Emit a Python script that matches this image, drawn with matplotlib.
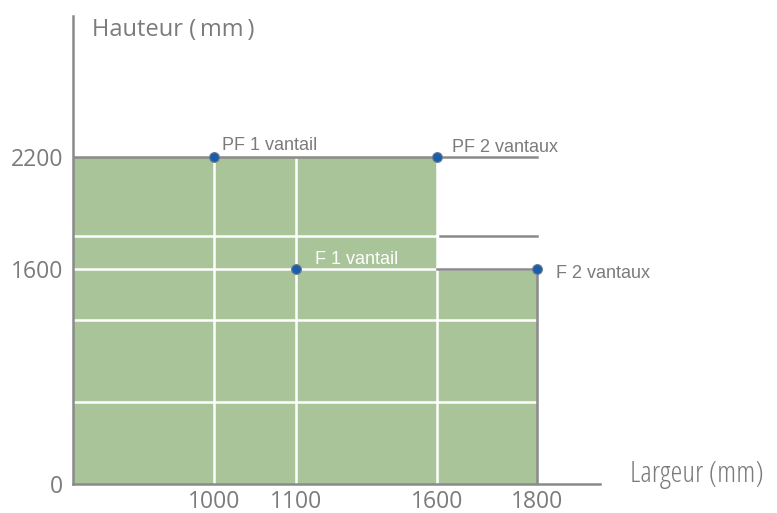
import numpy as np
import matplotlib
matplotlib.use('Agg')
import matplotlib.pyplot as plt

# les quatre configurations (largeur, hauteur)
noms = ['PF 1 vantail', 'PF 2 vantaux', 'F 1 vantail', 'F 2 vantaux']
largeurs = [1000, 1600, 1100, 1800]
hauteurs = [2200, 2200, 1600, 1600]

# zone en escalier
bords_zone = [0, 1600, 1800]
hauteurs_zone = [2200, 1600]

x_ticks = [1000, 1100, 1600, 1800]
y_ticks = [0, 1600, 2200]
y_grille = [600, 1200, 1600, 1800]

# echelle schematique (non lineaire) : valeur -> position
x_noeuds = [0, 1000, 1100, 1600, 1800, 2000]
x_pos = [0, 141, 223, 364, 464, 527]
y_noeuds = [0, 600, 1200, 1600, 1800, 2200, 3000]
y_pos = [0, 82, 164, 215, 248, 327, 468]

vert = '#a8c498'
gris = '#8a8a8a'
texte = '#7b7b7b'
bleu = '#1d5ca8'

plt.rcParams['font.family'] = ['Open Sans', 'DejaVu Sans']

fig = plt.figure(figsize=(7.77, 5.13), dpi=100)
W, H = 777, 513
ax = fig.add_axes([73 / W, (H - 484) / H, 527 / W, 468 / H])

def interp_f(xp, fp):
    xp = np.asarray(xp, float)
    fp = np.asarray(fp, float)
    def f(v):
        return np.interp(np.asarray(v, float), xp, fp)
    return f

ax.set_xscale('function', functions=(interp_f(x_noeuds, x_pos), interp_f(x_pos, x_noeuds)))
ax.set_yscale('function', functions=(interp_f(y_noeuds, y_pos), interp_f(y_pos, y_noeuds)))
ax.set_xlim(x_noeuds[0], x_noeuds[-1])
ax.set_ylim(y_noeuds[0], y_noeuds[-1])

# zone verte
for i in range(len(hauteurs_zone)):
    ax.fill_between([bords_zone[i], bords_zone[i + 1]], 0, hauteurs_zone[i],
                    color=vert, lw=0, zorder=1)

# grille blanche
for y in y_grille:
    ax.plot([0, bords_zone[-1]], [y, y], color='white', lw=1.8, zorder=2)
for x in x_ticks[:-1]:
    ax.plot([x, x], [0, hauteurs_zone[0]], color='white', lw=1.8, zorder=2)

# contours gris
ax.plot([0, bords_zone[-1]], [hauteurs_zone[0], hauteurs_zone[0]], color=gris, lw=1.8, zorder=3)
ax.plot([bords_zone[1] + 5, bords_zone[-1]], [1800, 1800], color=gris, lw=1.8, zorder=3)
ax.plot([bords_zone[1], bords_zone[-1]], [hauteurs_zone[1], hauteurs_zone[1]], color=gris, lw=1.8, zorder=3)
ax.plot([bords_zone[-1], bords_zone[-1]], [0, hauteurs_zone[1]], color=gris, lw=1.8, zorder=3)

# points
ax.scatter(largeurs, hauteurs, s=50, color=bleu, edgecolors='#6f7f90', linewidths=0.8, zorder=5)

decalages = [(8, 12), (15, 10), (19, 9), (19, -4)]
couleurs = [texte, texte, 'white', texte]
for nom, x, y, d, c in zip(noms, largeurs, hauteurs, decalages, couleurs):
    ax.annotate(nom, (x, y), xytext=d, textcoords='offset pixels',
                ha='left', va='center', fontsize=13, color=c, zorder=6,
                family=['Liberation Sans', 'DejaVu Sans'])

for s in ['top', 'right']:
    ax.spines[s].set_visible(False)
for s in ['left', 'bottom']:
    ax.spines[s].set_color(gris)
    ax.spines[s].set_linewidth(1.8)

ax.set_xticks(x_ticks)
ax.set_xticklabels([str(v) for v in x_ticks])
ax.set_yticks(y_ticks)
ax.set_yticklabels([str(v) for v in y_ticks])
ax.tick_params(length=0, labelsize=16.5, labelcolor=texte)
ax.tick_params(axis='x', pad=4)
ax.tick_params(axis='y', pad=7)
ax.minorticks_off()

fig.text(92 / W, 1 - 30 / H, 'Hauteur (\u2009mm\u2009)', fontsize=17, color=texte,
         ha='left', va='center')
fig.text(630 / W, 1 - 474 / H, 'Largeur (mm)', fontsize=21.5, color=texte,
         ha='left', va='center', fontstretch='condensed')

fig.savefig('out.png', dpi=100)
